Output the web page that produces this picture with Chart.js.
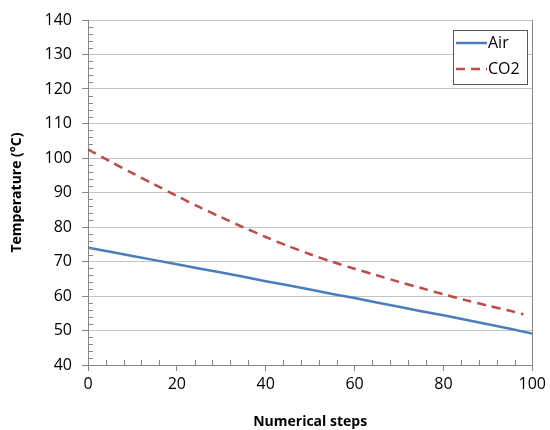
<!DOCTYPE html>
<html>
<head>
<meta charset="utf-8">
<script src="https://cdn.jsdelivr.net/npm/chart.js@4"></script>
<style>
html,body{margin:0;padding:0;background:#fff;}
#wrap{width:550px;height:430px;}
</style>
</head>
<body>
<div id="wrap"><canvas id="c" width="550" height="430"></canvas></div>
<script>
const steps    = [0,5,10,15,20,25,30,35,40,45,50,55,60,65,70,75,80,85,90,95,100];
const airTemp  = [74,72.8,71.6,70.4,69.2,68.0,66.8,65.6,64.3,63.1,61.9,60.6,59.4,58.1,56.9,55.6,54.4,53.1,51.8,50.5,49.1];
const co2Steps = [0,5,10,15,20,25,30,35,40,45,50,55,60,65,70,75,80,85,90,95,98];
const co2Temp  = [102.5,99,95.6,92.3,89,85.8,82.8,79.9,77.1,74.5,72.1,69.9,67.9,66,64.1,62.3,60.5,58.8,57.2,55.7,54.7];
const seriesLabels = ['Air','CO2'];
const xTitle = 'Numerical steps';
const yTitle = 'Temperature (°C)';

const AXIS = '#868686', GRID = '#c4c4c4';
const FONT = "'Open Sans', sans-serif";

const minorTicks = {
  id:'minorTicks',
  afterDraw(chart){
    const {ctx, chartArea:a, scales:{x,y}} = chart;
    ctx.save();
    ctx.strokeStyle = AXIS; ctx.lineWidth = 1;
    ctx.beginPath();
    for(let v=40; v<=140; v+=2){
      if(v%10===0) continue;
      const py = Math.round(y.getPixelForValue(v))+0.5;
      ctx.moveTo(a.left, py); ctx.lineTo(a.left+5, py);
    }
    for(let v=0; v<=100; v+=4){
      if(v%20===0) continue;
      const px = Math.round(x.getPixelForValue(v))+0.5;
      ctx.moveTo(px, a.bottom); ctx.lineTo(px, a.bottom-5);
    }
    const rx = Math.round(a.right)+0.5;
    ctx.moveTo(rx, a.top); ctx.lineTo(rx, a.bottom+6);
    ctx.stroke();
    ctx.restore();
  }
};

const boxLegend = {
  id:'boxLegend',
  afterDraw(chart){
    const ctx = chart.ctx;
    const bx=453.5, by=30.5, bw=74, bh=54;
    ctx.save();
    ctx.fillStyle='#fff'; ctx.fillRect(bx,by,bw,bh);
    ctx.strokeStyle='#555'; ctx.lineWidth=1; ctx.strokeRect(bx,by,bw,bh);
    chart.data.datasets.forEach((ds,i)=>{
      const ly = 43 + i*26;
      ctx.beginPath();
      ctx.strokeStyle = ds.borderColor; ctx.lineWidth = ds.borderWidth;
      ctx.setLineDash(ds.borderDash||[]);
      ctx.moveTo(456, ly); ctx.lineTo(487, ly); ctx.stroke();
      ctx.setLineDash([]);
      ctx.fillStyle='#000'; ctx.font = "16px "+FONT;
      ctx.textBaseline='middle'; ctx.textAlign='left';
      ctx.fillText(ds.label, 488, ly);
    });
    ctx.restore();
  }
};

new Chart(document.getElementById('c'), {
  type:'line',
  data:{
    datasets:[
      {label:seriesLabels[0], data:steps.map((s,i)=>({x:s,y:airTemp[i]})), borderColor:'#4a7ebb', borderWidth:2.5, pointRadius:0, tension:0, fill:false},
      {label:seriesLabels[1], data:co2Steps.map((s,i)=>({x:s,y:co2Temp[i]})), borderColor:'#be4b48', borderWidth:2.5, borderDash:[9,6], pointRadius:0, tension:0.3, fill:false}
    ]
  },
  options:{
    responsive:false, animation:false,
    layout:{padding:{top:20,right:14,left:0,bottom:0}},
    plugins:{legend:{display:false}, tooltip:{enabled:false}},
    scales:{
      x:{
        type:'linear', min:0, max:100,
        ticks:{stepSize:20, color:'#000', font:{family:FONT,size:16}, padding:4, maxRotation:0},
        grid:{drawOnChartArea:false, color:AXIS, tickLength:6},
        border:{color:AXIS},
        title:{display:true, text:xTitle, color:'#000', font:{family:FONT,size:14,weight:'bold'}, padding:{top:0,bottom:0}},
        afterFit(s){ s.height = 65; }
      },
      y:{
        type:'linear', min:40, max:140,
        ticks:{stepSize:10, color:'#000', font:{family:FONT,size:16}, padding:10},
        grid:{color:GRID, tickLength:6, tickColor:AXIS},
        border:{color:AXIS},
        title:{display:true, text:yTitle, color:'#000', font:{family:FONT,size:14,weight:'bold'}, padding:{top:9,bottom:0}},
        afterFit(s){ s.width = 88; }
      }
    }
  },
  plugins:[minorTicks, boxLegend]
});
</script>
</body>
</html>
